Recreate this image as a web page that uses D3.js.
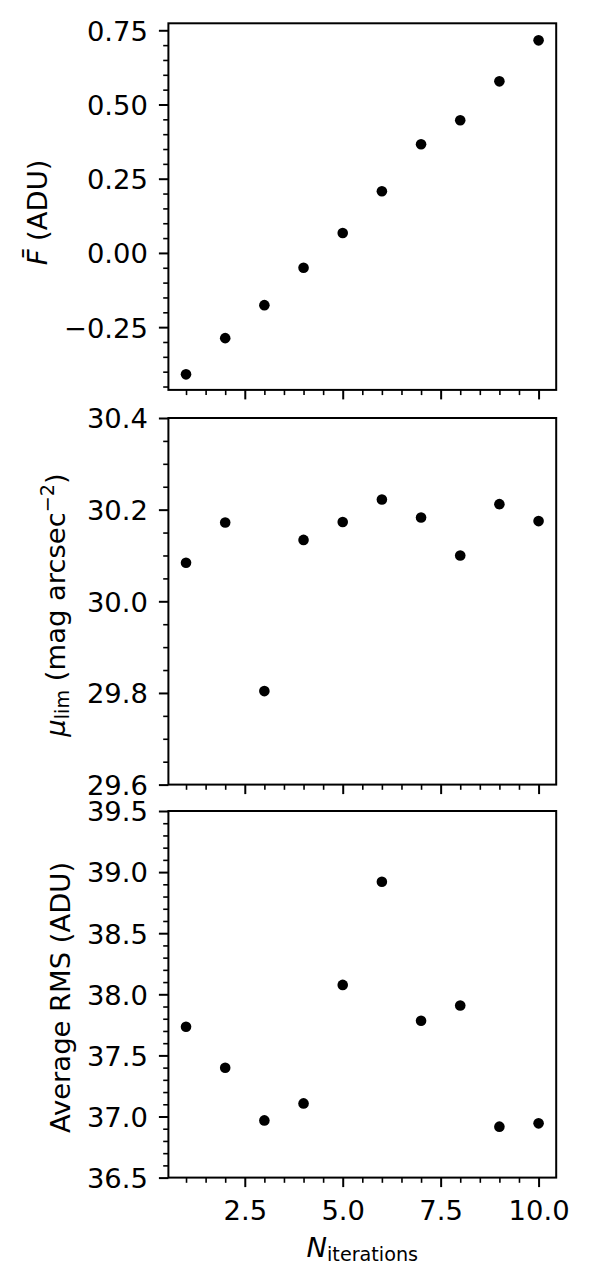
<!DOCTYPE html>
<html><head><meta charset="utf-8">
<script src="https://cdn.jsdelivr.net/npm/d3@7"></script>
<style>body{margin:0;background:#fff}</style>
</head><body><svg id="c" width="590" height="1284" xmlns="http://www.w3.org/2000/svg"></svg>
<script>
// ---- data ----
const iterations = [1, 2, 3, 4, 5, 6, 7, 8, 9, 10];
const meanFlux = [-0.409, -0.287, -0.176, -0.050, 0.067, 0.208, 0.366, 0.447, 0.578, 0.716];
const muLim = [30.084, 30.172, 29.804, 30.134, 30.173, 30.222, 30.183, 30.100, 30.212, 30.175];
const avgRms = [37.734, 37.399, 36.968, 37.107, 38.077, 38.921, 37.783, 37.908, 36.917, 36.944];
const xTicks = [2.5, 5.0, 7.5, 10.0];
const fluxTicks = [-0.25, 0.00, 0.25, 0.50, 0.75];
const muTicks = [29.6, 29.8, 30.0, 30.2, 30.4];
const rmsTicks = [36.5, 37.0, 37.5, 38.0, 38.5, 39.0, 39.5];

// ---- layout ----
const FONT = '"DejaVu Sans", sans-serif';
const FS = 27.4;
const X0 = 168.4, X1 = 556.2;
const PH = 366.6;
const MAJ = 9.5, MIN = 5.2;

const svg = d3.select('#c');
svg.append('rect').attr('width', 590).attr('height', 1284).attr('fill', '#fff');

const x = d3.scaleLinear().domain([0.55, 10.45]).range([X0, X1]);
const xMinor = d3.range(1, 10.01, 0.5).filter(v => !xTicks.some(t => Math.abs(t - v) < 1e-9));

function styleAxis(sel) {
  sel.select('.domain').remove();
  sel.attr('font-family', FONT).attr('font-size', FS);
  sel.selectAll('line').attr('stroke', '#000');
  sel.selectAll('text').attr('fill', '#000');
}

function panel(cfg) {
  const top = cfg.top, bot = cfg.top + PH;
  const y = d3.scaleLinear().domain(cfg.yDomain).range([bot, top]);
  const g = svg.append('g');

  // minor y ticks
  g.append('g').attr('transform', `translate(${X0},0)`)
    .call(d3.axisLeft(y).tickValues(cfg.yMinor).tickSize(MIN).tickFormat(''))
    .call(styleAxis).selectAll('line').attr('stroke-width', 1.6);
  // major y ticks
  g.append('g').attr('transform', `translate(${X0},0)`)
    .call(d3.axisLeft(y).tickValues(cfg.yTicks).tickSize(MAJ).tickPadding(11).tickFormat(d3.format(cfg.fmt)))
    .call(styleAxis)
    .call(s => s.selectAll('line').attr('stroke-width', 2))
    .call(s => s.selectAll('text').attr('dy', '0.36em'));

  // minor x ticks
  g.append('g').attr('transform', `translate(0,${bot})`)
    .call(d3.axisBottom(x).tickValues(xMinor).tickSize(MIN).tickFormat(''))
    .call(styleAxis).selectAll('line').attr('stroke-width', 1.6);
  // major x ticks
  const xa = g.append('g').attr('transform', `translate(0,${bot})`)
    .call(d3.axisBottom(x).tickValues(xTicks).tickSize(MAJ).tickPadding(13.5)
      .tickFormat(cfg.xLabels ? d3.format('.1f') : ''))
    .call(styleAxis)
    .call(s => s.selectAll('line').attr('stroke-width', 2));

  // frame
  g.append('rect').attr('x', X0).attr('y', top).attr('width', X1 - X0).attr('height', PH)
    .attr('fill', 'none').attr('stroke', '#000').attr('stroke-width', 2);

  // points
  g.append('g').selectAll('circle').data(iterations.map((d, i) => [d, cfg.values[i]]))
    .join('circle').attr('cx', d => x(d[0])).attr('cy', d => y(d[1])).attr('r', 5.3).attr('fill', '#000');

  // y label
  const t = g.append('text')
    .attr('transform', `translate(${cfg.labelX},${cfg.labelY}) rotate(-90)`)
    .attr('text-anchor', 'middle').attr('font-family', FONT).attr('font-size', FS).attr('fill', '#000');
  cfg.label(t);
  return y;
}

panel({
  top: 23.3, yDomain: [-0.4614, 0.7735], values: meanFlux, yTicks: fluxTicks,
  yMinor: d3.range(-0.45, 0.76, 0.05).map(v => +v.toFixed(2)).filter(v => !fluxTicks.some(t => Math.abs(t - v) < 1e-9)),
  fmt: '.2f', xLabels: false, labelX: 46.7, labelY: 212.5,
  label: t => {
    t.append('tspan').attr('font-style', 'italic').text('F\u0304');
    t.append('tspan').text(' (ADU)');
  }
});

panel({
  top: 418, yDomain: [29.6, 30.4], values: muLim, yTicks: muTicks,
  yMinor: d3.range(29.65, 30.4, 0.05).map(v => +v.toFixed(2)).filter(v => !muTicks.some(t => Math.abs(t - v) < 1e-9)),
  fmt: '.1f', xLabels: false, labelX: 65, labelY: 605,
  label: t => {
    t.append('tspan').attr('font-style', 'italic').text('\u03bc');
    t.append('tspan').attr('font-size', FS * 0.7).attr('dy', 4).text('lim');
    t.append('tspan').attr('dy', -4).text(' (mag arcsec');
    t.append('tspan').attr('font-size', FS * 0.7).attr('dy', -11).text('\u22122');
    t.append('tspan').attr('dy', 11).text(')');
  }
});

panel({
  top: 811, yDomain: [36.5, 39.5], values: avgRms, yTicks: rmsTicks,
  yMinor: d3.range(36.6, 39.45, 0.1).map(v => +v.toFixed(1)).filter(v => !rmsTicks.some(t => Math.abs(t - v) < 1e-9)),
  fmt: '.1f', xLabels: true, labelX: 70, labelY: 997.5,
  label: t => t.text('Average RMS (ADU)')
});

// x label
const xl = svg.append('text').attr('x', 362.3).attr('y', 1257.3)
  .attr('text-anchor', 'middle').attr('font-family', FONT).attr('font-size', FS).attr('fill', '#000');
xl.append('tspan').attr('font-style', 'italic').text('N');
xl.append('tspan').attr('font-size', FS * 0.7).attr('dy', 3.5).text('iterations');
</script>
</body></html>
